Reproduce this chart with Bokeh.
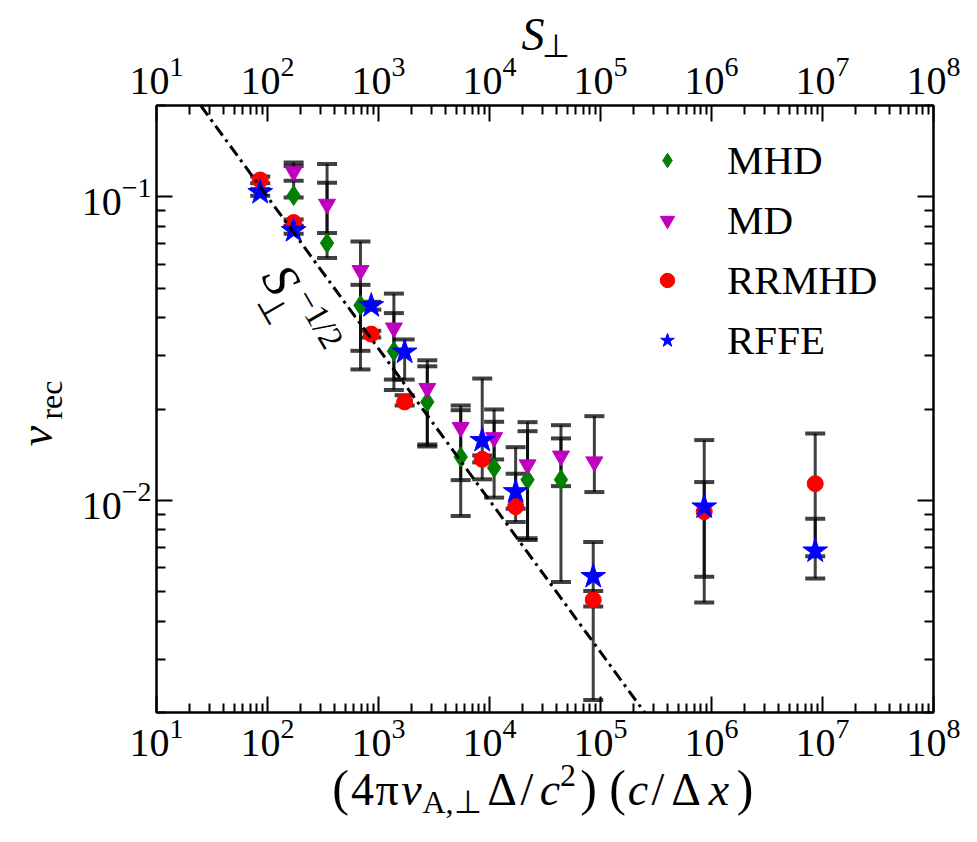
import math
from bokeh.plotting import figure
from bokeh.layouts import column
from bokeh.models import (Range1d, FixedTicker, LogTickFormatter, LogAxis, CustomJSTickFormatter,
                          Whisker, TeeHead, ColumnDataSource, Legend, LegendItem, Label, Div)
from bokeh.embed import file_html
from bokeh.resources import INLINE

# ---------------- data ----------------
S_MHD = [172, 344, 688, 1376, 2752, 5504, 11008, 22016, 44032]
V_MHD = [0.101, 0.0704, 0.0439, 0.0310, 0.0211, 0.0139, 0.0128, 0.0117, 0.0117]
LO_MHD = [0.0995, 0.0629, 0.0270, 0.0231, 0.01505, 0.00888, 0.01021, 0.0074, 0.00538]
HI_MHD = [0.1265, 0.1114, 0.0513, 0.0414, 0.02765, 0.01982, 0.01815, 0.0169, 0.0160]

S_MD = [172, 344, 688, 1376, 2752, 5504, 11008, 22016, 44032, 88064]
V_MD = [0.121, 0.0946, 0.0572, 0.0370, 0.0234, 0.0174, 0.0161, 0.0131, 0.0140, 0.0134]
LO_MD = [0.1131, 0.0760, 0.0311, 0.0250, 0.01528, 0.01166, 0.01364, 0.0075, 0.01114, 0.01065]
HI_MD = [0.1297, 0.1284, 0.0713, 0.0480, 0.02894, 0.02054, 0.01993, 0.0181, 0.01769, 0.01894]

S_RR = [86, 172, 860, 1720, 8600, 17200, 86000, 860000, 8600000]
V_RR = [0.1137, 0.0823, 0.0353, 0.0211, 0.01365, 0.00953, 0.0047, 0.00918, 0.01135]
LO_RR = [0.1109, 0.0803, 0.0344, 0.02054, 0.01334, 0.00848, 0.0022, 0.00461, 0.00553]
HI_RR = [0.1166, 0.0842, 0.0362, 0.0222, 0.01406, 0.01224, 0.00503, 0.0158, 0.01662]

S_RF = [86, 172, 860, 1720, 8600, 17200, 86000, 860000, 8600000]
V_RF = [0.1033, 0.0774, 0.0438, 0.0308, 0.01575, 0.01068, 0.00561, 0.00951, 0.00681]
LO_RF = [0.1008, 0.0756, 0.0425, 0.0250, 0.01173, 0.00939, 0.00447, 0.0056, 0.00654]
HI_RF = [0.1062, 0.0797, 0.0451, 0.0339, 0.0252, 0.01497, 0.00729, 0.01149, 0.0087]

# reference scaling line  v = S^(-1/2)
LINE_S = [10.0, 1.0e8]
LINE_V = [0.31623, 0.0001]

SERIES_NAMES = ["MHD", "MD", "RRMHD", "RFFE"]
COLORS = ["#008000", "#bf00bf", "#ff0000", "#0000ff"]

X_MAJOR = [10.0 ** k for k in range(1, 9)]
X_MINOR = [m * 10.0 ** k for k in range(1, 8) for m in range(2, 10)]
Y_MAJOR = [1e-3, 1e-2, 1e-1, 1.0]
Y_MINOR = [m * 10.0 ** k for k in (-3, -2, -1) for m in range(2, 10)]

X_LIM = (10.0, 1.0e8)
Y_LIM = (0.002, 0.2)

FONT = "Liberation Serif"

# ---------------- main figure ----------------
W, H = 968, 834
FL, FR, FT, FB = 156, 933, 105, 712   # frame edges in page pixels
p = figure(width=W, height=H, x_axis_type="log", y_axis_type="log",
           x_range=Range1d(*X_LIM), y_range=Range1d(*Y_LIM),
           output_backend="svg", toolbar_location=None,
           min_border_left=FL, min_border_right=W - FR, min_border_top=FT, min_border_bottom=H - FB)
p.title.visible = False
p.grid.visible = False
p.outline_line_color = "black"
p.outline_line_width = 2
p.background_fill_color = "white"
p.border_fill_color = "white"


def px_x(px):
    lo, hi = math.log10(X_LIM[0]), math.log10(X_LIM[1])
    return 10 ** (lo + (px - FL) / (FR - FL) * (hi - lo))


def px_y(py):
    lo, hi = math.log10(Y_LIM[0]), math.log10(Y_LIM[1])
    return 10 ** (hi - (py - FT) / (FB - FT) * (hi - lo))


def style_axis(ax):
    ax.major_tick_in = 16
    ax.major_tick_out = 0
    ax.minor_tick_in = 9
    ax.minor_tick_out = 0
    ax.major_tick_line_width = 2
    ax.minor_tick_line_width = 2
    ax.major_tick_line_color = "black"
    ax.minor_tick_line_color = "black"
    ax.axis_line_width = 2
    ax.axis_line_color = "black"
    ax.major_label_text_font = FONT
    ax.major_label_text_font_size = "40px"
    ax.major_label_text_color = "black"


p.xaxis.ticker = FixedTicker(ticks=X_MAJOR, minor_ticks=X_MINOR)
p.xaxis.formatter = LogTickFormatter()
p.yaxis.ticker = FixedTicker(ticks=Y_MAJOR, minor_ticks=Y_MINOR)
p.yaxis.formatter = LogTickFormatter()
style_axis(p.xaxis[0])
style_axis(p.yaxis[0])
p.xaxis.major_label_standoff = 6
p.yaxis.major_label_standoff = 5

top = LogAxis(ticker=FixedTicker(ticks=X_MAJOR, minor_ticks=X_MINOR), formatter=LogTickFormatter())
style_axis(top)
top.major_label_standoff = 12
p.add_layout(top, "above")

right = LogAxis(ticker=FixedTicker(ticks=Y_MAJOR, minor_ticks=Y_MINOR),
                formatter=CustomJSTickFormatter(code="return ''"))
style_axis(right)
p.add_layout(right, "right")


# ---------------- error bars ----------------
def add_errs(S, lo, hi):
    src = ColumnDataSource(dict(x=S, lower=lo, upper=hi))
    head = dict(size=20, line_width=4, line_color="black", line_alpha=0.75)
    w = Whisker(base="x", lower="lower", upper="upper", source=src, dimension="height",
                line_color="black", line_alpha=0.75, line_width=3,
                upper_head=TeeHead(**head), lower_head=TeeHead(**head))
    p.add_layout(w)


add_errs(S_MHD, LO_MHD, HI_MHD)
add_errs(S_MD, LO_MD, HI_MD)
add_errs(S_RR, LO_RR, HI_RR)
add_errs(S_RF, LO_RF, HI_RF)

# ---------------- markers ----------------
r_mhd = p.scatter(S_MHD, V_MHD, marker="diamond", size=20, color=COLORS[0])
r_md = p.scatter(S_MD, V_MD, marker="inverted_triangle", size=17, color=COLORS[1])
r_rr = p.scatter(S_RR, V_RR, marker="circle", size=16, color=COLORS[2])
r_rf = p.scatter(S_RF, V_RF, marker="star", size=26, color=COLORS[3])

p.line(LINE_S, LINE_V, line_color="black", line_width=3, line_dash="12 5 3 5")

# ---------------- legend ----------------
legend = Legend(items=[LegendItem(label=n, renderers=[r]) for n, r in
                       zip(SERIES_NAMES, [r_mhd, r_md, r_rr, r_rf])],
                location=(493, 348), orientation="vertical",
                border_line_color=None, background_fill_alpha=0,
                label_text_font=FONT, label_text_font_size="41px", label_text_color="black",
                glyph_width=36, glyph_height=48, label_height=48,
                label_standoff=42, spacing=12, padding=0, margin=0)
p.add_layout(legend)


def lab(fig, txt, x, y, size, italic=False, angle=0, align="center", baseline="alphabetic"):
    fig.add_layout(Label(x=x, y=y, text=txt, text_font=FONT,
                         text_font_size=f"{size}px",
                         text_font_style="italic" if italic else "normal",
                         angle=angle, angle_units="deg", text_align=align,
                         text_baseline=baseline, text_color="black"))


# line label: S_⊥^{-1/2}  (inside the frame)
lab(p, "S", px_x(281), px_y(279), 50, italic=True, angle=-60, baseline="middle")
lab(p, "⊥", px_x(273), px_y(309), 34, angle=-60, baseline="middle")
lab(p, "−1/2", px_x(319), px_y(318), 34, angle=-60, baseline="middle")

# ---------------- axis titles: transparent HTML overlay ----------------
ASC = 0.8375  # baseline offset (em) of Liberation Serif with line-height 1


def span(txt, cx, base_y, size, italic=False):
    top_ = base_y - ASC * size
    st = "font-style:italic;" if italic else ""
    return (f'<span style="position:absolute;left:{cx}px;top:{top_:.1f}px;font-size:{size}px;'
            f'line-height:1;white-space:nowrap;transform:translateX(-50%);{st}">{txt}</span>')


def vspan(txt, cx, cy, size, italic=False):
    st = "font-style:italic;" if italic else ""
    return (f'<span style="position:absolute;left:{cx}px;top:{cy}px;font-size:{size}px;'
            f'line-height:1;white-space:nowrap;transform:translate(-50%,-50%) rotate(-90deg);{st}">'
            f'{txt}</span>')


XB = 805
pieces = [("(", 340.5, 0, 50, False), ("4", 362.5, 0, 46, False), ("π", 387, 0, 46, False),
          ("v", 411.5, 0, 46, True), ("A,⊥", 452, 8, 32, False), ("Δ", 502, 0, 46, False),
          ("/", 527, 0, 46, False), ("c", 550, 0, 46, True), ("2", 568, -19, 32, False),
          (")", 588.5, 0, 50, False), ("(", 617.5, 0, 50, False), ("c", 638, 0, 46, True),
          ("/", 658, 0, 46, False), ("Δ", 686, 0, 46, False), ("x", 719, 0, 46, True),
          (")", 745, 0, 50, False)]
html = [span(t_, cx, XB + dy, sz, it) for t_, cx, dy, sz, it in pieces]
html.append(span("S", 533, 50, 46, True))
html.append(span("⊥", 556, 57, 32))
html.append(vspan("v", 36.5, 436, 46, True))
html.append(vspan("rec", 51, 400, 32))

overlay = Div(text=(f'<div style="position:relative;width:{W}px;height:{H}px;'
                    f'font-family:\'{FONT}\';color:black;">' + "".join(html) + "</div>"),
              width=W, height=H, margin=(-H, 0, 0, 0))

open("out.html", "w").write(file_html(column(p, overlay), INLINE))
